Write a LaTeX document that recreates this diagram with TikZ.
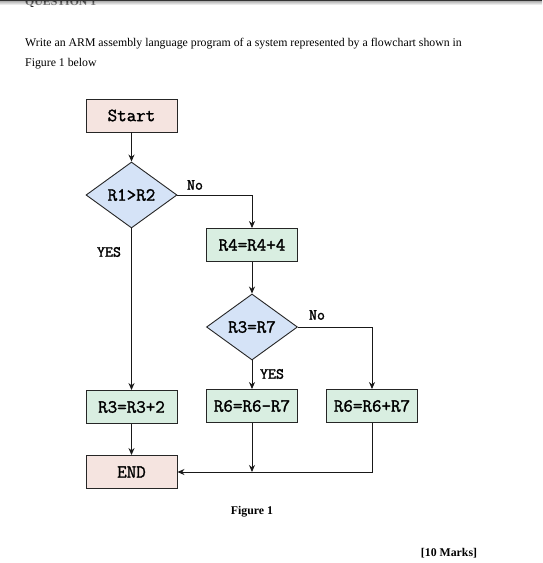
\documentclass[tikz,border=0pt]{standalone}
\usepackage{fontspec}
\setmainfont{Liberation Serif}
\newfontfamily\flowfont[FakeBold=1.6]{Latin Modern Mono}
\usetikzlibrary{shapes.geometric,arrows.meta}
\definecolor{pinkfill}{RGB}{245,228,224}
\definecolor{greenfill}{RGB}{217,238,225}
\definecolor{bluefill}{RGB}{213,227,247}
\tikzset{
  box/.style={draw=black!85, line width=0.9pt, rectangle, minimum width=91pt, minimum height=33pt, inner sep=0pt, font=\flowfont\fontsize{18.5}{20}\selectfont},
  termbox/.style={box, fill=pinkfill},
  procbox/.style={box, fill=greenfill},
  decbox/.style={draw=black!85, line width=0.9pt, diamond, aspect=1.38, minimum width=91pt, minimum height=66pt, inner sep=0pt, fill=bluefill, font=\flowfont\fontsize{18.5}{20}\selectfont},
  lbl/.style={inner sep=0pt, font=\flowfont\fontsize{15.5}{17}\selectfont},
  conn/.style={line width=0.9pt, draw=black!90, -{Stealth[length=7pt,width=6pt]}},
  body/.style={inner sep=0pt, font=\fontsize{11.8}{14}\selectfont},
  bodybf/.style={inner sep=0pt, font=\bfseries\fontsize{11.8}{14}\selectfont}
}
\begin{document}
\begin{tikzpicture}[x=1pt,y=-1pt]
\useasboundingbox (0,0) rectangle (542,563);
\clip (0,0) rectangle (542,563);
\fill[white] (0,0) rectangle (542,563);

% header texts
\node[bodybf, anchor=base west] (q) at (25,5.5) {QUESTION 1};
\shade[top color=black!70, bottom color=white, opacity=0.55] (0,0) rectangle (542,5);
\fill[black!80] (0,0) rectangle (542,1.2);
\node[body, anchor=base west] (t1) at (25,46) {Write an ARM assembly language program of a system represented by a flowchart shown in};
\node[body, anchor=base west] (t2) at (25,66) {Figure 1 below};

% nodes
\node[termbox] (start) at (131.5,115.5) {Start};
\node[decbox] (d1) at (131.5,195) {R1>R2};
\node[procbox] (r4) at (252,245) {R4=R4+4};
\node[decbox] (d2) at (252,327) {R3=R7};
\node[procbox] (r3) at (131.5,407) {R3=R3+2};
\node[procbox] (r6m) at (252,406) {R6=R6-R7};
\node[procbox] (r6p) at (372,406) {R6=R6+R7};
\node[termbox] (end) at (131.5,472) {END};
\coordinate (join) at (252,472);

% labels
\node[lbl] (no1) at (195,185) {No};
\node[lbl] (yes1) at (109,252) {YES};
\node[lbl] (no2) at (317,315) {No};
\node[lbl] (yes2) at (272,374) {YES};

% connectors
\draw[conn] (start) -- (d1);
\draw[conn] (d1.east) -| (r4.north);
\draw[conn] (d1.south) -- (r3.north);
\draw[conn] (r4) -- (d2);
\draw[conn] (d2.south) -- (r6m.north);
\draw[conn] (d2.east) -| (r6p.north);
\draw[conn] (r3) -- (end);
\draw[conn] (r6p.south) |- (end.east);
\draw[conn] (r6m.south) -- (join);

% captions
\node[bodybf, anchor=base] (fig) at (252,514) {Figure 1};
\node[bodybf, anchor=base] (marks) at (449,556) {[10 Marks]};
\end{tikzpicture}
\end{document}
